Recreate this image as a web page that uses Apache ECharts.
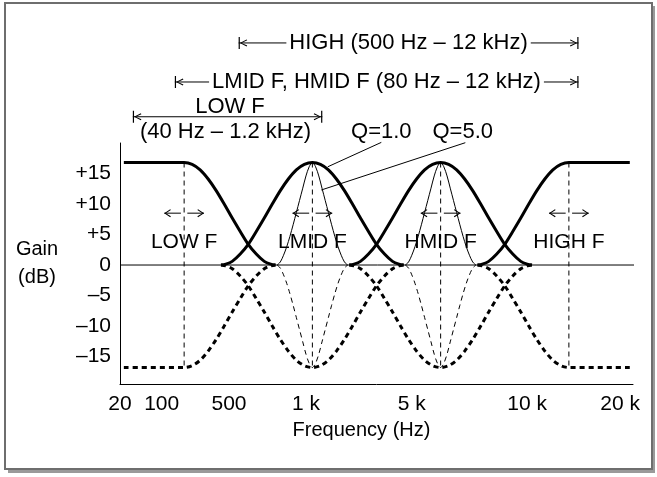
<!DOCTYPE html>
<html><head><meta charset="utf-8">
<script src="https://cdn.jsdelivr.net/npm/echarts@6/dist/echarts.min.js"></script>
<style>html,body{margin:0;padding:0;background:#fff;}#c{width:657px;height:477px;}</style>
</head><body><div id="c"></div>
<script>
// ---- data (schematic units: x = position along the frequency axis, y = gain in dB) ----
const xTickPos    = [0, 1.3, 3.4, 5.8, 9.1, 12.7, 15.6];
const xTickLabels = ['20', '100', '500', '1 k', '5 k', '10 k', '20 k'];
const yTickVals   = [15, 10, 5, 0, -5, -10, -15];
const yTickLabels = ['+15', '+10', '+5', '0', '\u20135', '\u201310', '\u201315'];

const bandNames   = ['LOW F', 'LMID F', 'HMID F', 'HIGH F'];
const bandCenters = [2, 6, 10, 14];
const bandLabelLevel = 3.8;
const arrowLevel = 8.5;
const arrowInner = 0.1, arrowOuter = 0.62;

// wide (Q=1.0) bell / shelf profile: offset from centre -> gain
const wideOffsets = [0, 0.25, 0.5, 0.75, 1.0, 1.25, 1.5, 1.75, 2.0, 2.25, 2.5, 2.7, 2.85];
const wideGains   = [16.8, 16.5, 15.6, 14.1, 12.2, 10.0, 7.7, 5.5, 3.4, 1.8, 0.6, 0.15, 0];
// narrow (Q=5.0) bell profile
const narrowOffsets = [0, 0.1, 0.2, 0.3, 0.4, 0.5, 0.6, 0.7, 0.8, 0.9, 1.0, 1.1];
const narrowGains   = [16.8, 16.1, 14.6, 12.6, 10.6, 8.6, 6.6, 4.7, 3.0, 1.6, 0.5, 0];
const shelfStart = 0.12, shelfEnd = 15.9;
const zeroLineEnd = 16.3;

// adjustable ranges shown above the plot
const rangeNames  = ['HIGH (500 Hz \u2013 12 kHz)', 'LMID F, HMID F (80 Hz \u2013 12 kHz)', ''];
const rangeStart  = [3.7, 1.71, 0.4];
const rangeEnd    = [14.3, 14.3, 6.31];
const rangeLevel  = [36.4, 30.0, 24.3];
const rangeLabelX = [9.0, 8.0, 0];
const lowRangeTitle = ['LOW F', '(40 Hz \u2013 1.2 kHz)'];
const lowRangeTitleX = [3.43, 3.29];
const lowRangeTitleY = [25.9, 21.85];

const qLabels = ['Q=1.0', 'Q=5.0'];
const qLabelX = [8.15, 10.69];
const qLabelY = 21.85;
const qLeaderFrom = [[8.15, 20.1], [10.77, 20.05]];
const qLeaderTo   = [[6.48, 16.1], [6.28, 12.3]];

// ---- build ----
const FONT = 'Liberation Sans';
const INK = '#000';
function bell(center, offs, gains, sign) {
  const p = [];
  for (let i = offs.length - 1; i > 0; i--) p.push([center - offs[i], sign * gains[i]]);
  for (let i = 0; i < offs.length; i++) p.push([center + offs[i], sign * gains[i]]);
  return p;
}
function lowShelf(sign) {
  const p = [[shelfStart, sign * wideGains[0]]];
  for (let i = 0; i < wideOffsets.length; i++) p.push([bandCenters[0] + wideOffsets[i], sign * wideGains[i]]);
  return p;
}
function highShelf(sign) {
  const p = [];
  for (let i = wideOffsets.length - 1; i >= 0; i--) p.push([bandCenters[3] - wideOffsets[i], sign * wideGains[i]]);
  p.push([shelfEnd, sign * wideGains[0]]);
  return p;
}
function line(data, width, dashed, extra) {
  return Object.assign({
    type: 'line', data: data, symbol: 'none', smooth: 0.3, clip: false, silent: true,
    lineStyle: { color: INK, width: width, type: dashed ? [5, 4] : 'solid', cap: 'butt' },
    z: 3
  }, extra || {});
}
const chevL = 'path://M0,4 L6,0 L6.7,0.9 L1.7,4 L6.7,7.1 L6,8 Z';
const chevR = 'path://M6.7,4 L0.7,0 L0,0.9 L5,4 L0,7.1 L0.7,8 Z';
const barL = 'path://M0,0 L1.2,0 L1.2,12 L0,12 Z M1.2,6 L8,2.5 L8.6,3.4 L3,6 L8.6,8.6 L8,9.5 Z';
const barR = 'path://M8.6,0 L7.4,0 L7.4,12 L8.6,12 Z M7.4,6 L0.6,2.5 L0,3.4 L5.6,6 L0,8.6 L0.6,9.5 Z';
const textLabel = (size) => ({
  show: true, position: 'inside', formatter: p => p.name, color: '#000',
  fontFamily: FONT, fontSize: size, textBorderWidth: 0, textBorderColor: 'transparent', opacity: 1
});

const series = [];
// zero line
series.push(line([[0, 0], [zeroLineEnd, 0]], 1, false, { smooth: false }));
// vertical centre lines
bandCenters.forEach(c => series.push(line([[c, wideGains[0]], [c, -wideGains[0]]], 1, true, { smooth: false })));
// boost (solid bold) and cut (dashed bold)
[1, -1].forEach(s => {
  const dashed = s < 0;
  series.push(line(lowShelf(s), 3, dashed));
  series.push(line(bell(bandCenters[1], wideOffsets, wideGains, s), 3, dashed));
  series.push(line(bell(bandCenters[2], wideOffsets, wideGains, s), 3, dashed));
  series.push(line(highShelf(s), 3, dashed));
  series.push(line(bell(bandCenters[1], narrowOffsets, narrowGains, s), 1, dashed));
  series.push(line(bell(bandCenters[2], narrowOffsets, narrowGains, s), 1, dashed));
});
// small left/right arrows at each band
bandCenters.forEach(c => {
  series.push(line([{ value: [c - arrowOuter, arrowLevel], symbol: chevL, symbolSize: [6.7, 8], symbolOffset: [3.3, 0] },
                    { value: [c - arrowInner, arrowLevel], symbol: 'none' }], 1, false,
                   { smooth: false, showSymbol: true, itemStyle: { color: INK, borderWidth: 0 } }));
  series.push(line([{ value: [c + arrowInner, arrowLevel], symbol: 'none' },
                    { value: [c + arrowOuter, arrowLevel], symbol: chevR, symbolSize: [6.7, 8], symbolOffset: [-3.3, 0] }], 1, false,
                   { smooth: false, showSymbol: true, itemStyle: { color: INK, borderWidth: 0 } }));
});
// band labels
series.push({
  type: 'scatter', silent: true, clip: false, symbol: 'circle', symbolSize: 0.01, itemStyle: { color: '#000', opacity: 1 },
  data: bandNames.map((n, i) => ({ value: [bandCenters[i], bandLabelLevel], name: n })),
  label: textLabel(21),
  z: 5
});
// range arrows
rangeStart.forEach((x0, i) => {
  series.push(line([{ value: [x0, rangeLevel[i]], symbol: barL, symbolSize: [8.6, 12], symbolOffset: [4.3, 0] },
                    { value: [rangeEnd[i], rangeLevel[i]], symbol: barR, symbolSize: [8.6, 12], symbolOffset: [-4.3, 0] }], 1, false,
                   { smooth: false, showSymbol: true, itemStyle: { color: INK, borderWidth: 0 } }));
});
// range texts
const texts = [];
rangeNames.forEach((n, i) => { if (n) texts.push({ value: [rangeLabelX[i], rangeLevel[i]], name: n, bg: true }); });
lowRangeTitle.forEach((n, i) => texts.push({ value: [lowRangeTitleX[i], lowRangeTitleY[i]], name: n }));
qLabels.forEach((n, i) => texts.push({ value: [qLabelX[i], qLabelY], name: n }));
series.push({
  type: 'scatter', silent: true, clip: false, symbol: 'circle', symbolSize: 0.01, itemStyle: { color: '#000', opacity: 1 },
  data: texts.map(t => ({ value: t.value, name: t.name,
    label: t.bg ? { backgroundColor: '#fff', padding: [0, 3] } : {} })),
  label: textLabel(22),
  z: 6
});
// Q leader lines
qLeaderFrom.forEach((f, i) => series.push(line([f, qLeaderTo[i]], 1, false, { smooth: false })));

const chart = echarts.init(document.getElementById('c'));
chart.setOption({
  animation: false,
  backgroundColor: '#fff',
  grid: { left: 120, right: 24, top: 143, bottom: 93, containLabel: false },
  xAxis: {
    type: 'value', min: 0, max: 16, interval: 0.1,
    axisLine: { show: true, onZero: false, lineStyle: { color: '#000', width: 1 } },
    axisTick: { show: false }, splitLine: { show: false },
    axisLabel: {
      margin: 10, color: '#000', fontFamily: FONT, fontSize: 21,
      formatter: v => { const i = xTickPos.findIndex(t => Math.abs(t - v) < 0.04); return i >= 0 ? xTickLabels[i] : ''; }
    },
    name: 'Frequency (Hz)', nameLocation: 'middle', nameGap: 36,
    nameTextStyle: { color: '#000', fontFamily: FONT, fontSize: 20, padding: [0, 30, 0, 0] }
  },
  yAxis: {
    type: 'value', min: -19.5, max: 20, interval: 0.5,
    axisLine: { show: true, onZero: false, lineStyle: { color: '#000', width: 1 } },
    axisTick: { show: false }, splitLine: { show: false },
    axisLabel: {
      margin: 9, color: '#000', fontFamily: FONT, fontSize: 21,
      formatter: v => { const i = yTickVals.findIndex(t => Math.abs(t - v) < 1e-6); return i >= 0 ? yTickLabels[i] : ''; }
    },
    name: 'Gain\n(dB)', nameLocation: 'middle', nameRotate: 0, nameGap: 83,
    nameTextStyle: { color: '#000', fontFamily: FONT, fontSize: 20, align: 'center', verticalAlign: 'middle', lineHeight: 28, padding: [18, 0, 0, 0] }
  },
  graphic: [
    { type: 'rect', silent: true, z: -10, shape: { x: 8, y: 6, width: 647, height: 467 }, style: { fill: '#9a9a9a' } },
    { type: 'rect', silent: true, z: -9, shape: { x: 5, y: 3, width: 647, height: 466 }, style: { fill: '#fff', stroke: '#6e6e6e', lineWidth: 2 } }
  ],
  series: series
});
</script>
</body></html>
